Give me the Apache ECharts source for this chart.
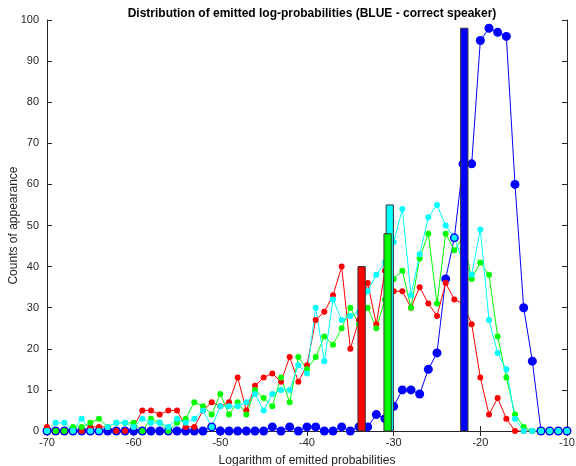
<!DOCTYPE html>
<html><head><meta charset="utf-8">
<script src="https://cdn.jsdelivr.net/npm/echarts@6/dist/echarts.min.js"></script>
<style>html,body{margin:0;padding:0;background:#fff}#c{width:576px;height:466px}</style>
</head><body><div id="c"></div>
<script>
// bin centres (log-probability)
const logProb = [-70,-69,-68,-67,-66,-65,-64,-63,-62,-61,-60,-59,-58,-57,-56,-55,-54,-53,-52,-51,
  -50,-49,-48,-47,-46,-45,-44,-43,-42,-41,-40,-39,-38,-37,-36,-35,-34,-33,-32,-31,
  -30,-29,-28,-27,-26,-25,-24,-23,-22,-21,-20,-19,-18,-17,-16,-15,-14,-13,-12,-11,-10];

const blueCounts = [0,0,0,0,0,0,0,0,0,0,0,0,0,0,0,0,0,0,0,1,
  0,0,0,0,0,0,1,0,1,0,1,1,0,0,1,0,1,1,4,3,
  6,10,10,9,15,19,37,47,65,65,95,98,97,96,60,30,17,0,0,0,0];
const redCounts = [1,0,0,0,0,1,1,1,0,0,1,5,5,4,5,5,1,1,5,7,
  6,7,13,5,11,13,14,12,18,12,16,27,29,33,40,20,27,36,26,39,
  34,34,30,35,31,28,36,32,31,26,13,4,8,3,0,0,0,0,0,0,0];
const greenCounts = [0,0,0,1,1,2,3,1,2,2,2,0,3,2,0,2,3,7,6,4,
  9,4,7,4,10,8,6,13,7,18,15,18,23,21,25,30,26,30,25,32,
  37,39,30,42,48,31,48,44,47,37,41,38,23,13,4,1,0,0,0,0,0];
const cyanCounts = [0,2,2,0,3,0,0,1,2,2,1,3,2,2,1,3,2,3,5,1,
  6,6,6,7,9,5,9,10,10,16,14,30,17,32,27,28,29,34,38,41,
  46,54,33,43,52,55,50,47,41,38,49,27,19,15,3,0,0,0,0,0,0];

// mean markers (thick bars)
const barNames = ['red','cyan','green','blue'];
const barPos = [-33.7, -30.45, -30.7, -21.85];
const barHeight = [40, 55, 48, 98];

const xTicks = [-70,-60,-50,-40,-30,-20,-10];
const yTicks = [0,10,20,30,40,50,60,70,80,90,100];

const colorMap = {red:'#ff0000', green:'#00ff00', cyan:'#00ffff', blue:'#0000ff'};
const zip = a => logProb.map((x,i)=>[x,a[i]]);

function lineSeries(name, data, size){
  return {type:'line', name, data:zip(data), symbol:'circle', symbolSize:size,
    itemStyle:{color:colorMap[name]}, lineStyle:{color:colorMap[name], width:1},
    animation:false, z:2};
}
function barSeries(i){
  return {type:'custom', name:barNames[i]+'Bar', data:[[barPos[i], barHeight[i]]], z:5, animation:false,
    renderItem(params, api){
      const x=api.value(0), h=api.value(1);
      const p0=api.coord([x-0.42, h]), p1=api.coord([x+0.42, 0]);
      return {type:'rect', shape:{x:p0[0], y:p0[1], width:p1[0]-p0[0], height:p1[1]-p0[1]},
        style:{fill:colorMap[barNames[i]], stroke:'#333', lineWidth:1}};
    }};
}
const axisCol = '#262626';
const font = 'Liberation Sans, Arial, sans-serif';
const chart = echarts.init(document.getElementById('c'), null, {renderer:'canvas'});
chart.setOption({
  animation:false,
  backgroundColor:'#fff',
  title:{text:'Distribution of emitted log-probabilities (BLUE - correct speaker)', left:307, textAlign:'center', top:3,
    textStyle:{fontFamily:font, fontSize:12, fontWeight:'bold', color:'#000'}},
  grid:{left:47, right:9, top:20, bottom:35, show:false, containLabel:false, outerBoundsMode:'none'},
  xAxis:[
    {type:'value', min:-70, max:-10, interval:10, position:'bottom',
     name:'Logarithm of emitted probabilities', nameLocation:'middle', nameGap:24, nameMoveOverlap:false,
     nameTextStyle:{fontFamily:font, fontSize:12, color:axisCol},
     axisLine:{show:true, lineStyle:{color:axisCol, width:1}},
     axisTick:{show:true, inside:true, length:5, lineStyle:{color:axisCol}},
     axisLabel:{fontFamily:font, fontSize:11, color:axisCol, margin:6, formatter:v=>xTicks.includes(v)?String(v):''},
     splitLine:{show:false}},
    {type:'value', min:-70, max:-10, interval:10, position:'top',
     axisLine:{show:true, lineStyle:{color:axisCol, width:1}},
     axisTick:{show:true, inside:true, length:5, lineStyle:{color:axisCol}},
     axisLabel:{show:false}, splitLine:{show:false}}
  ],
  yAxis:[
    {type:'value', min:0, max:100, interval:10, position:'left',
     name:'Counts of appearance', nameLocation:'middle', nameGap:27, nameRotate:90, nameMoveOverlap:false,
     nameTextStyle:{fontFamily:font, fontSize:12, color:axisCol},
     axisLine:{show:true, lineStyle:{color:axisCol, width:1}},
     axisTick:{show:true, inside:true, length:5, lineStyle:{color:axisCol}},
     axisLabel:{fontFamily:font, fontSize:11, color:axisCol, margin:8, formatter:v=>yTicks.includes(v)?String(v):''},
     splitLine:{show:false}},
    {type:'value', min:0, max:100, interval:10, position:'right',
     axisLine:{show:true, lineStyle:{color:axisCol, width:1}},
     axisTick:{show:true, inside:true, length:5, lineStyle:{color:axisCol}},
     axisLabel:{show:false}, splitLine:{show:false}}
  ],
  series:[
    lineSeries('blue', blueCounts, 9),
    lineSeries('red', redCounts, 6),
    lineSeries('green', greenCounts, 6),
    lineSeries('cyan', cyanCounts, 6),
    barSeries(0), barSeries(1), barSeries(2), barSeries(3)
  ]
});
</script></body></html>
